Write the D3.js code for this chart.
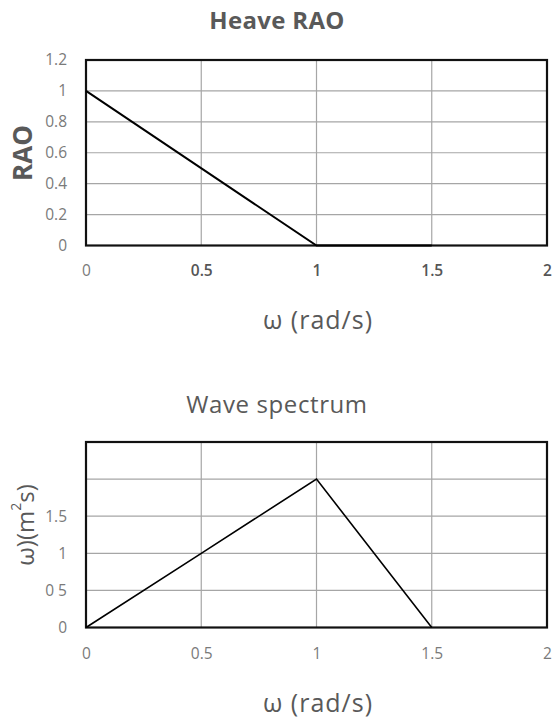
<!DOCTYPE html>
<html><head><meta charset="utf-8">
<script src="https://cdn.jsdelivr.net/npm/d3@7"></script>
<style>
body{margin:0;background:#fff;}
svg{display:block;font-family:"Open Sans",sans-serif;}
</style></head>
<body><svg id="c" width="554" height="720"></svg>
<script>
// Data
const raoOmega = [0, 1, 1.5];
const raoValues = [1, 0, 0];
const raoYTicks = [0, 0.2, 0.4, 0.6, 0.8, 1, 1.2];
const raoYTickLabels = ["0", "0.2", "0.4", "0.6", "0.8", "1", "1.2"];

const specOmega = [0, 0.5, 1, 1.5];
const specValues = [0, 1, 2, 0];
const specYTicks = [0, 0.5, 1, 1.5, 2, 2.5];
const specYTickLabels = ["0", "0 5", "1", "1.5", "", ""];

const xTicks = [0, 0.5, 1, 1.5, 2];
const xTickLabels = ["0", "0.5", "1", "1.5", "2"];

const svg = d3.select("#c");

function panel(opts){
  const g = svg.append("g");
  const x = d3.scaleLinear().domain([0, 2]).range([86, 547]);
  const y = d3.scaleLinear().domain(opts.yDomain).range([opts.bottom, opts.top]);
  // gridlines
  g.append("g").selectAll("line").data(opts.yTicks).join("line")
    .attr("x1", x(0)).attr("x2", x(2))
    .attr("y1", d => y(d)).attr("y2", d => y(d))
    .attr("stroke", "#a6a6a6").attr("stroke-width", 1.2);
  g.append("g").selectAll("line").data(xTicks).join("line")
    .attr("x1", d => x(d)).attr("x2", d => x(d))
    .attr("y1", y(opts.yDomain[0])).attr("y2", y(opts.yDomain[1]))
    .attr("stroke", "#a6a6a6").attr("stroke-width", 1.2);
  // border
  g.append("rect").attr("x", x(0)).attr("y", y(opts.yDomain[1]))
    .attr("width", x(2) - x(0)).attr("height", y(opts.yDomain[0]) - y(opts.yDomain[1]))
    .attr("fill", "none").attr("stroke", "#111").attr("stroke-width", 2.2);
  // data line
  const line = d3.line().x((d, i) => x(opts.xs[i])).y(d => y(d));
  g.append("path").datum(opts.ys).attr("d", line)
    .attr("fill", "none").attr("stroke", "#000").attr("stroke-width", opts.lw);
  // x axis labels
  const xa = d3.axisBottom(x).tickValues(xTicks).tickSize(0).tickPadding(0)
    .tickFormat((d, i) => xTickLabels[i]);
  const xg = g.append("g").attr("transform", `translate(0,${opts.xTickY})`).call(xa);
  xg.select(".domain").remove();
  xg.selectAll("text").attr("font-size", 15.5)
    .attr("fill", (d, i) => (opts.xTickDark && i > 0) ? "#555" : "#7a7a7a")
    .attr("font-weight", (d, i) => (opts.xTickDark && i > 0) ? 600 : null)
    .attr("font-family", "Open Sans");
  // y axis labels
  const ya = d3.axisLeft(y).tickValues(opts.yTicks).tickSize(0).tickPadding(0)
    .tickFormat((d, i) => opts.yLabels[i]);
  const yg = g.append("g").attr("transform", `translate(67,0)`).call(ya);
  yg.select(".domain").remove();
  yg.selectAll("text").attr("font-size", 15.5).attr("fill", "#7a7a7a")
    .attr("font-family", "Open Sans");
  // title
  g.append("text").attr("x", 277).attr("y", opts.titleY).attr("text-anchor", "middle")
    .attr("font-size", opts.titleSize).attr("font-weight", opts.titleWeight)
    .attr("letter-spacing", opts.titleLS).attr("fill", "#595959").text(opts.title);
  // x label
  g.append("text").attr("x", 318).attr("y", opts.xLabelY).attr("text-anchor", "middle")
    .attr("font-size", 25).attr("letter-spacing", 1).attr("fill", "#595959").text("ω (rad/s)");
  // y label
  const yl = g.append("text")
    .attr("transform", `translate(${opts.yLabelX},${opts.yLabelCY}) rotate(-90)`)
    .attr("text-anchor", "middle").attr("dominant-baseline", "central")
    .attr("font-size", opts.yLabelSize).attr("font-weight", opts.yLabelWeight)
    .attr("fill", "#595959");
  opts.yLabel(yl);
}

panel({
  yDomain: [0, 1.2], top: 60, bottom: 245.5,
  yTicks: raoYTicks, yLabels: raoYTickLabels,
  xs: raoOmega, ys: raoValues, lw: 2,
  xTickY: 265, titleY: 29, titleSize: 24, titleLS: 0.3, titleWeight: "bold", title: "Heave RAO",
  xLabelY: 329, yLabelX: 22, yLabelCY: 153, yLabelSize: 26, yLabelWeight: "bold",
  xTickDark: true,
  yLabel: t => t.text("RAO")
});

panel({
  yDomain: [0, 2.5], top: 442, bottom: 627.5,
  yTicks: specYTicks, yLabels: specYTickLabels,
  xs: specOmega, ys: specValues, lw: 1.6,
  xTickY: 648, titleY: 413, titleSize: 24, titleLS: 0.6, titleWeight: "normal", title: "Wave spectrum",
  xLabelY: 712, yLabelX: 24, yLabelCY: 525, yLabelSize: 24, yLabelWeight: "normal",
  xTickDark: false,
  yLabel: t => {
    t.append("tspan").text("ω)(m");
    t.append("tspan").attr("font-size", 14).attr("dy", -9).text("2");
    t.append("tspan").attr("dy", 9).text("s)");
  }
});
</script>
</body></html>
